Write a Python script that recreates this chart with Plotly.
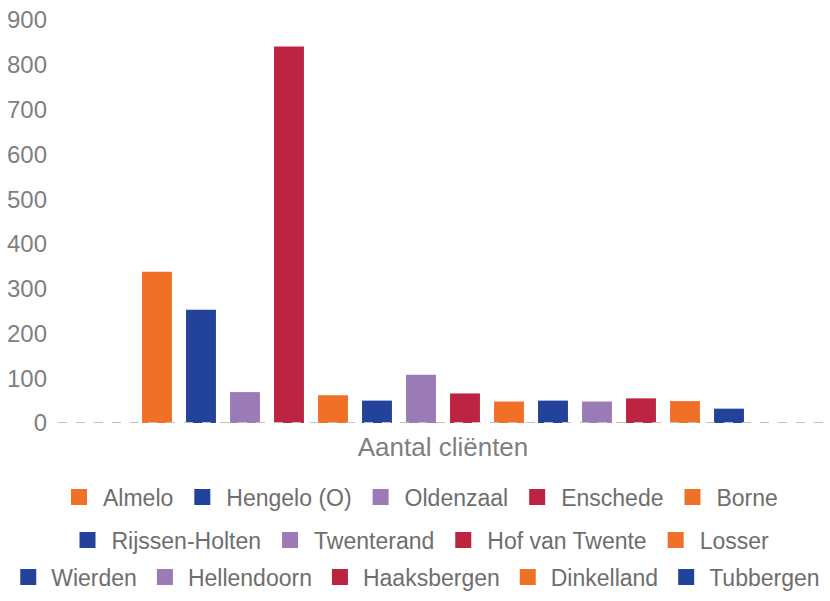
import plotly.graph_objects as go

category = ["Aantal cliënten"]
gemeenten = ["Almelo", "Hengelo (O)", "Oldenzaal", "Enschede", "Borne",
             "Rijssen-Holten", "Twenterand", "Hof van Twente", "Losser",
             "Wierden", "Hellendoorn", "Haaksbergen", "Dinkelland", "Tubbergen"]
values = [338, 253, 69, 841, 62, 50, 108, 66, 48, 50, 48, 55, 49, 32]
palette = ["#F07028", "#23429A", "#9B7BB5", "#BE2341"]
legend_rows = ["legend"] * 5 + ["legend2"] * 4 + ["legend3"] * 5
y_ticks = [0, 100, 200, 300, 400, 500, 600, 700, 800, 900]

FONT = "Liberation Sans, Arial, Helvetica, sans-serif"

fig = go.Figure()
for i, (name, val) in enumerate(zip(gemeenten, values)):
    color = palette[i % 4]
    fig.add_trace(go.Bar(
        x=category, y=[val], name=name,
        marker=dict(color=color, line=dict(width=0)),
        legendgroup=name, showlegend=False,
    ))
    # legend entry with a larger square swatch
    fig.add_trace(go.Scatter(
        x=[None], y=[None], name=name, mode="markers",
        marker=dict(symbol="square", size=16, color=color, line=dict(width=0)),
        legendgroup=name, legend=legend_rows[i], hoverinfo="skip",
    ))

leg_font = dict(family=FONT, size=23, color="#6e6e6e")
leg_base = dict(orientation="h", font=leg_font, bgcolor="rgba(0,0,0,0)",
                itemsizing="trace", yanchor="middle")

fig.update_layout(
    width=830, height=601,
    margin=dict(l=58, r=2, t=20, b=178),
    paper_bgcolor="white", plot_bgcolor="white",
    barmode="group", bargap=0.2, bargroupgap=0.32,
    font=dict(family=FONT),
    showlegend=True,
    legend=dict(x=419 / 830, xref="container", xanchor="center", itemwidth=38,
                y=1 - 497 / 601, yref="container", **leg_base),
    legend2=dict(x=419 / 830, xref="container", xanchor="center", itemwidth=38,
                 y=1 - 540 / 601, yref="container", **leg_base),
    legend3=dict(x=-0.0685, xref="paper", xanchor="left", itemwidth=36,
                 y=-(577 - 423) / 403, yref="paper", **leg_base),
    xaxis=dict(showgrid=False, zeroline=False, showline=False, ticks="",
               automargin=False, ticklabelstandoff=6,
               tickfont=dict(family=FONT, size=26, color="#7f7f7f")),
    yaxis=dict(range=[0, 900], tickvals=y_ticks, showgrid=False, zeroline=False,
               showline=False, ticks="", ticklabelstandoff=10, automargin=False,
               tickfont=dict(family=FONT, size=24, color="#7f7f7f")),
    shapes=[dict(type="line", xref="paper", yref="y", x0=0, x1=1, y0=0, y1=0,
                 line=dict(color="#c0c0c0", width=2, dash="dash"), layer="above")],
)

fig.write_html(
    "out.html",
    config={"displayModeBar": False},
    post_script="document.body.style.margin='0';document.body.style.overflow='hidden';",
)
